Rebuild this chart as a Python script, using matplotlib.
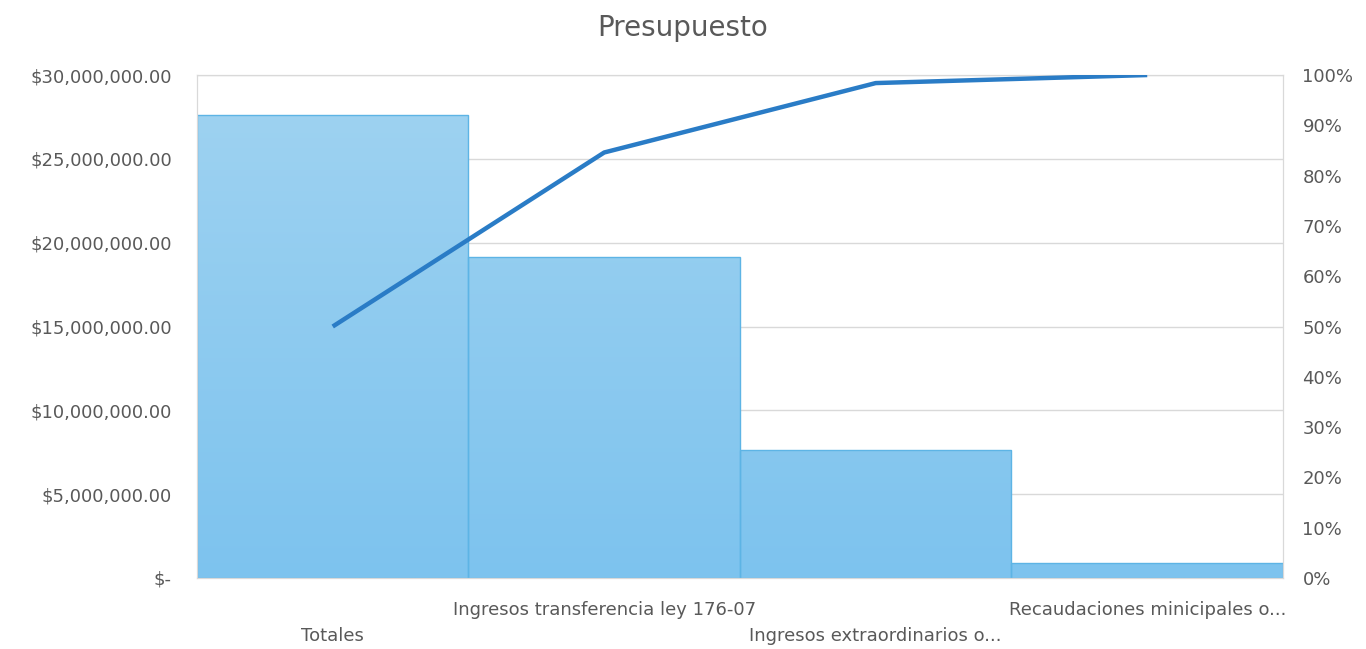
import numpy as np
import matplotlib.pyplot as plt
from matplotlib.ticker import FuncFormatter
from matplotlib.colors import LinearSegmentedColormap

categorias = ['Totales', 'Ingresos transferencia ley 176-07',
              'Ingresos extraordinarios o...', 'Recaudaciones minicipales o...']
montos = [27610000, 19150000, 7630000, 890000]
acumulado = [0.50, 0.846, 0.984, 1.00]

fig = plt.figure(figsize=(13.66, 6.49), dpi=100)
ax = fig.add_axes([0.1442, 0.1094, 0.795, 0.775])
ax2 = ax.twinx()

x = np.arange(len(categorias))
barras = ax.bar(x, montos, width=1.0, color='#8cc9ef', edgecolor='#5db4e5', linewidth=1, zorder=2)

# degradado en las barras
grad = np.linspace(0, 1, 256).reshape(-1, 1)
cmap = LinearSegmentedColormap.from_list('g', ['#7dc3ee', '#a0d3f1'])
for b in barras:
    img = ax.imshow(grad, cmap=cmap, origin='lower', aspect='auto',
                    extent=[b.get_x(), b.get_x() + b.get_width(), 0, 30000000], zorder=2)
    img.set_clip_path(b)
    b.set_facecolor('none')
    b.set_zorder(3)

ax.set_xlim(-0.5, 3.5)
ax.set_ylim(0, 30000000)
ax.set_yticks(np.arange(0, 30000001, 5000000))
ax.yaxis.set_major_formatter(FuncFormatter(lambda v, p: '$-' if v == 0 else '${:,.2f}'.format(v)))
ax.grid(axis='y', color='#d9d9d9', linewidth=1, zorder=0)
ax.set_axisbelow(True)

ax2.plot(x, acumulado, color='#2a7cc6', linewidth=3.2, zorder=5, solid_capstyle='butt')
ax2.set_ylim(0, 1)
ax2.set_yticks(np.arange(0, 1.01, 0.1))
ax2.yaxis.set_major_formatter(FuncFormatter(lambda v, p: '{:.0f}%'.format(v * 100)))

for a in (ax, ax2):
    for s in a.spines.values():
        s.set_color('#d9d9d9')
    a.tick_params(length=0, labelsize=13, labelcolor='#595959')
ax.tick_params(axis='y', pad=18)
ax2.tick_params(axis='y', pad=14)

ax.set_xticks(x)
ax.set_xticklabels([])
for i, nombre in enumerate(categorias):
    yoff = -0.045 if i % 2 == 1 else -0.098
    ax.text(i, yoff, nombre, transform=ax.get_xaxis_transform(), ha='center', va='top',
            fontsize=13, color='#595959')

fig.suptitle('Presupuesto', y=0.978, fontsize=20, color='#595959')
fig.savefig('out.png', dpi=100)
